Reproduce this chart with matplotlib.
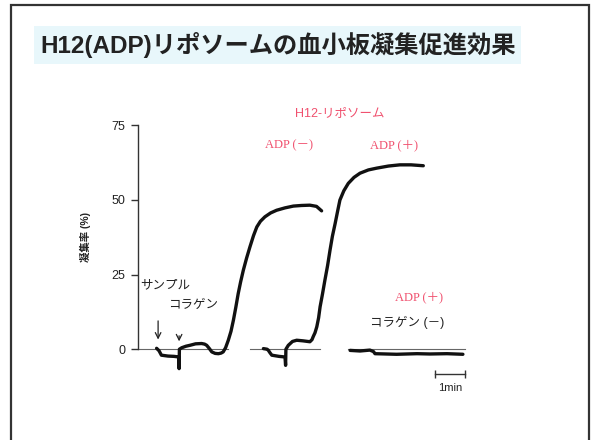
import matplotlib
matplotlib.use("Agg")
import matplotlib.pyplot as plt
from matplotlib.patches import Rectangle

plt.rcParams["font.family"] = ["Liberation Sans", "Noto Sans CJK JP", "DejaVu Sans"]

# aggregation traces: time (min) vs aggregation (%)
t_adp_minus = [0.62, 0.70, 0.78, 1.0, 1.2, 1.36, 1.37, 1.38, 1.46, 1.60, 1.73, 1.92, 2.12,
               2.22, 2.29, 2.38, 2.46, 2.57, 2.68, 2.77, 2.84, 2.92, 3.01, 3.10, 3.18,
               3.26, 3.34, 3.42, 3.51, 3.62, 3.73, 3.85, 3.96, 4.08, 4.23, 4.42, 4.62,
               4.90, 5.18, 5.45, 5.73, 5.95, 6.12]
y_adp_minus = [0.3, -0.5, -2.0, -2.3, -2.4, -2.6, -6.5, 0.0, 0.5, 1.0, 1.3, 1.8, 1.9,
               1.7, 1.3, 0.2, -0.9, -1.4, -1.5, -1.3, -0.9, 0.5, 3.0, 6.0, 9.7,
               14.0, 18.6, 22.5, 26.4, 30.5, 34.2, 38.0, 40.9, 42.8, 44.3, 45.6, 46.5,
               47.3, 47.9, 48.1, 48.2, 47.8, 46.3]

t_adp_plus = [4.18, 4.30, 4.34, 4.40, 4.46, 4.70, 4.90, 4.92, 4.93, 5.01, 5.15, 5.29,
              5.50, 5.73, 5.80, 5.84, 5.90, 5.96, 6.02, 6.07, 6.15, 6.23, 6.32, 6.40,
              6.48, 6.57, 6.65, 6.73, 6.86, 7.01, 7.20, 7.40, 7.68, 7.96, 8.35, 8.73,
              9.10, 9.51]
y_adp_plus = [0.2, 0.0, -0.3, -1.2, -2.0, -2.4, -2.6, -5.4, 0.0, 1.3, 2.6, 3.0,
              2.8, 2.5, 3.2, 4.2, 5.5, 7.5, 10.5, 14.2, 18.5, 23.1, 28.0, 33.1,
              37.8, 42.0, 46.0, 49.9, 53.0, 55.5, 57.5, 58.9, 60.0, 60.6, 61.3, 61.7,
              61.7, 61.4]

t_no_collagen = [7.07, 7.4, 7.73, 7.85, 7.9, 8.62, 9.3, 9.73, 10.3, 10.83]
y_no_collagen = [-0.4, -0.6, -0.3, -0.8, -1.5, -1.7, -1.5, -1.6, -1.5, -1.7]

# zero baselines drawn under each trace
baselines = [(0.0, 3.0), (3.73, 6.07), (7.0, 10.9)]

yticks = [0, 25, 50, 75]

fig = plt.figure(figsize=(5.92, 4.4), dpi=100)
fig.patch.set_facecolor("white")

# slide frame
fig.patches.append(Rectangle((11 / 592, -0.01), 578 / 592, 1 - 5 / 440 + 0.01,
                             transform=fig.transFigure, fill=False,
                             edgecolor="#333333", linewidth=1.6))

fig.text(40 / 592, 1 - 45 / 440, "H12(ADP)リポソームの血小板凝集促進効果",
         fontsize=17.5, fontweight="bold", color="#222222", va="center", ha="left",
         bbox=dict(facecolor="#e8f7fb", edgecolor="none", pad=4))

ax = fig.add_axes([138 / 592, 40 / 440, 342 / 592, 300 / 440])
ax.set_xlim(0, 11.4)
ax.set_ylim(-17, 83.4)
for s in ["top", "right", "bottom"]:
    ax.spines[s].set_visible(False)
ax.spines["left"].set_bounds(0, 75)
ax.spines["left"].set_color("#333333")
ax.spines["left"].set_linewidth(1.0)
ax.set_xticks([])
ax.set_yticks(yticks)
ax.tick_params(axis="y", length=5, width=1.0, color="#333333", labelsize=9,
               labelcolor="#222222", pad=4)

for x0, x1 in baselines:
    ax.plot([x0, x1], [0, 0], color="#666666", lw=0.8)

trace = dict(color="#111111", lw=2.4, solid_joinstyle="round", solid_capstyle="round")
ax.plot(t_adp_minus, y_adp_minus, **trace)
ax.plot(t_adp_plus, y_adp_plus, **trace)
ax.plot(t_no_collagen, y_no_collagen, **trace)

# arrows and labels
arrow = dict(arrowstyle="->", color="#222222", lw=0.9)
ax.annotate("", xy=(0.67, 2.3), xytext=(0.67, 10.4), arrowprops=arrow)
ax.annotate("", xy=(1.37, 1.7), xytext=(1.37, 5.4), arrowprops=arrow)
ax.text(0.07, 21.4, "サンプル", fontsize=9, va="center", color="#222222")
ax.text(1.0, 14.7, "コラゲン", fontsize=9, va="center", color="#222222")
ax.text(7.73, 9.0, "コラゲン (－)", fontsize=9, va="center", color="#222222")

red = "#f0506e"
ax.text(5.23, 79, "H12-リポソーム", fontsize=9, va="center", color=red)
serif = ["Liberation Serif", "Noto Sans CJK JP"]
ax.text(4.23, 68.3, "ADP (－)", fontsize=9, va="center", color=red, family=serif)
ax.text(7.73, 68.3, "ADP (＋)", fontsize=9, va="center", color=red, family=serif)
ax.text(8.57, 17.4, "ADP (＋)", fontsize=9, va="center", color=red, family=serif)

# 1 min scale bar
ax.plot([9.9, 10.9], [-8.4, -8.4], color="#333333", lw=1.0, marker="|", markersize=6)
ax.text(10.4, -13, "1min", fontsize=8, ha="center", va="center", color="#222222")

fig.text(85 / 592, 1 - 237 / 440, "凝集率 (%)", rotation=90, fontsize=7.5,
         fontweight="bold", ha="center", va="center", color="#222222")

fig.savefig("out.png", dpi=100)
